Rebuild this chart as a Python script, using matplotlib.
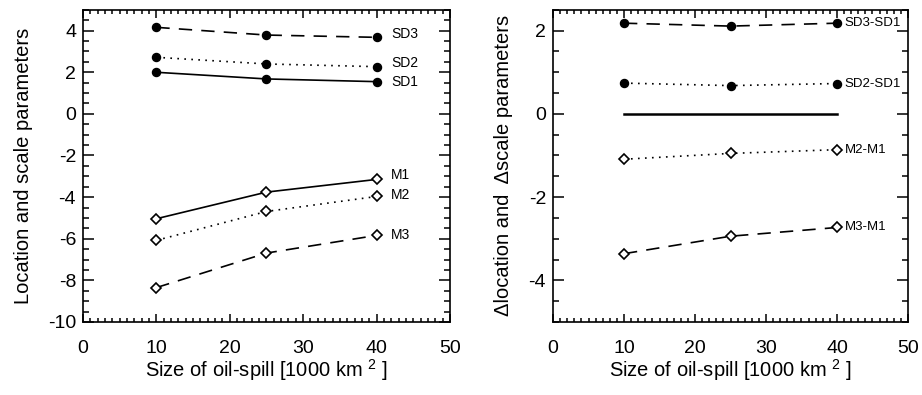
import numpy as np
import matplotlib
matplotlib.use("Agg")
import matplotlib.pyplot as plt
from matplotlib.ticker import MultipleLocator

plt.rcParams['font.family'] = ['Liberation Sans', 'DejaVu Sans']
plt.rcParams['axes.unicode_minus'] = False
plt.rcParams['mathtext.fontset'] = 'custom'
plt.rcParams['mathtext.rm'] = 'Liberation Sans'

# oil-spill size [1000 km^2]
size = [10, 25, 40]

# left panel: location (M) and scale (SD) parameters
sd1 = [2.00, 1.68, 1.55]
sd2 = [2.72, 2.40, 2.27]
sd3 = [4.16, 3.79, 3.68]
m1 = [-5.04, -3.76, -3.15]
m2 = [-6.08, -4.69, -3.97]
m3 = [-8.35, -6.69, -5.84]

# right panel: differences relative to case 1
d_sd3 = [2.18, 2.11, 2.18]
d_sd2 = [0.74, 0.68, 0.73]
d_zero = [0.0, 0.0, 0.0]
d_m2 = [-1.09, -0.95, -0.86]
d_m3 = [-3.36, -2.94, -2.73]

xlab = 'Size of oil-spill [1000 km $^{2}$ ]'

dash = (0, (8, 5.5))
dot = (0, (1, 3.2))
lw = 1.2


def style_axes(ax):
    ax.set_xlim(0, 50)
    ax.xaxis.set_major_locator(MultipleLocator(10))
    ax.xaxis.set_minor_locator(MultipleLocator(1))
    ax.tick_params(axis='both', which='both', direction='in',
                   top=True, right=True, labelsize=14, width=1.1)
    ax.tick_params(axis='x', which='major', length=6, pad=13)
    ax.tick_params(axis='x', which='minor', length=3)
    ax.tick_params(axis='y', which='major', length=8, pad=5)
    ax.tick_params(axis='y', which='minor', length=4)
    for sp in ax.spines.values():
        sp.set_linewidth(1.2)
    ax.set_xlabel(xlab, fontsize=14.5, labelpad=0)


fig = plt.figure(figsize=(9.22, 3.95), dpi=100)

# ---- left panel
ax1 = fig.add_axes([0.090, 0.185, 0.398, 0.790])
circ = dict(marker='o', ms=5.8, color='black', mfc='black', lw=lw)
diam = dict(marker='D', ms=5.3, color='black', mfc='white', mew=1.2, lw=lw)

ax1.plot(size, sd3, linestyle=dash, **circ)
ax1.plot(size, sd2, linestyle=dot, **circ)
ax1.plot(size, sd1, linestyle='-', **circ)
ax1.plot(size, m1, linestyle='-', **diam)
ax1.plot(size, m2, linestyle=dot, **diam)
ax1.plot(size, m3, linestyle=dash, **diam)

labels_left = [('SD3', sd3, 0.17), ('SD2', sd2, 0.16), ('SD1', sd1, 0.0),
               ('M1', m1, 0.2), ('M2', m2, 0.07), ('M3', m3, 0.0)]
for name, vals, dy in labels_left:
    ax1.text(42.0, vals[-1] + dy, name, fontsize=10, va='center', ha='left')

style_axes(ax1)
ax1.set_ylim(-10, 5)
ax1.yaxis.set_major_locator(MultipleLocator(2))
ax1.yaxis.set_minor_locator(MultipleLocator(0.5))
ax1.set_ylabel('Location and scale parameters', fontsize=14.5, labelpad=11)

# ---- right panel
ax2 = fig.add_axes([0.5998, 0.185, 0.385, 0.790])
ax2.plot(size, d_sd3, linestyle=dash, **circ)
ax2.plot(size, d_sd2, linestyle=dot, **circ)
ax2.plot(size, d_zero, linestyle='-', color='black', lw=1.8)
ax2.plot(size, d_m2, linestyle=dot, **diam)
ax2.plot(size, d_m3, linestyle=dash, **diam)

labels_right = [('SD3-SD1', d_sd3), ('SD2-SD1', d_sd2),
                ('M2-M1', d_m2), ('M3-M1', d_m3)]
for name, vals in labels_right:
    ax2.text(41.1, vals[-1], name, fontsize=9.5, va='center', ha='left')

style_axes(ax2)
ax2.set_ylim(-5, 2.5)
ax2.yaxis.set_major_locator(MultipleLocator(2))
ax2.yaxis.set_minor_locator(MultipleLocator(0.5))
ax2.set_ylabel('\u0394location and  \u0394scale parameters', fontsize=14.5, labelpad=11)

plt.savefig('out.png', dpi=100)
